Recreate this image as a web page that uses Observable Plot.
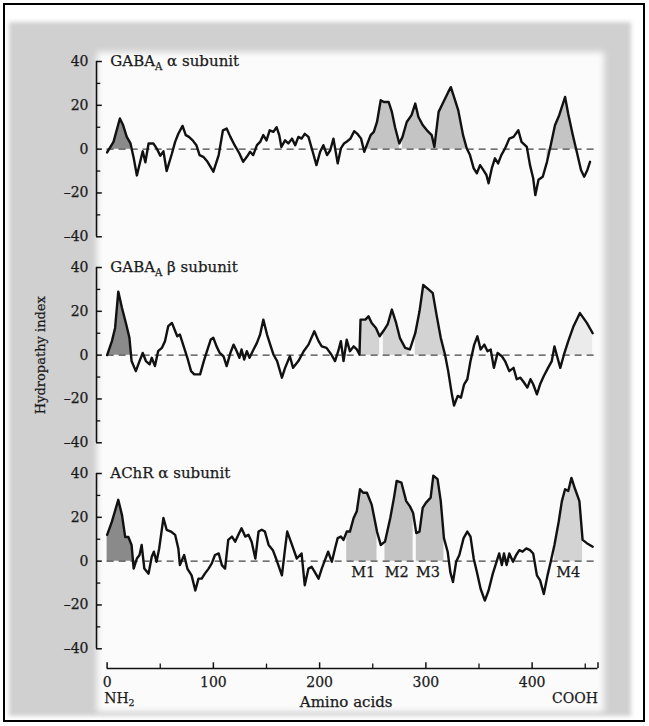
<!DOCTYPE html>
<html><head><meta charset="utf-8">
<script src="https://cdn.jsdelivr.net/npm/d3@7"></script>
<script src="https://cdn.jsdelivr.net/npm/@observablehq/plot@0.6"></script>
<style>
html,body{margin:0;padding:0;background:#fff;}
#wrap{position:relative;width:649px;height:726px;overflow:hidden;}
#border{position:absolute;left:3px;top:3px;width:638px;height:715px;border:2px solid #000;}
#scan{position:absolute;left:9px;top:22px;width:622px;height:694px;background:#d0d0d0;filter:blur(2px);}
#paper{position:absolute;left:97px;top:52px;width:507px;height:660px;background:#fbfbfb;filter:blur(3px);}
#chart{position:absolute;left:0;top:0;}
</style></head>
<body>
<div id="wrap"><div id="scan"></div><div id="paper"></div><div id="border"></div><div id="chart"></div></div>
<script>
// ---- data ----
const panels = ["gabaAlpha", "gabaBeta", "achrAlpha"];
const panelTitles = ["GABA_A α subunit", "GABA_A β subunit", "AChR α subunit"];

const gabaAlpha = [[0,-1.5],[6,3.3],[12,14],[15,11],[18.5,5.6],[22,2.6],[25,-4],[28,-12],[31,-6],[33.5,-1],[36,-6],[39,2.6],[43.5,2.6],[47,0],[50,-3],[53,-1],[56,-10],[61,-2],[64,3.3],[67,7],[71,10.6],[74,6.4],[77,5.6],[80.5,4],[84,1.8],[87,-2.7],[90.5,-3.5],[94.5,-5.8],[100,-10.3],[105,-2.7],[109,8.6],[112.5,9.4],[116,5.6],[120,1.8],[124.5,-2],[128,-5.8],[131.5,-3.5],[134.5,-1.2],[137.5,-2.7],[141,1.8],[144,3.3],[147,6.4],[150,4],[153,8.6],[156.5,7.9],[159.5,10],[162,6.4],[164,1],[167.5,4],[170.5,2.6],[174,4.8],[177,1.8],[180,5.6],[183,4.8],[186,7],[189.5,5.6],[193.5,-1.2],[197,-7.3],[200.5,-1.2],[203.5,1.8],[207,-2.7],[210,-0.5],[213,4.8],[217,-6.5],[220,0.3],[223,2.6],[226,3.6],[229,4.8],[232.5,8.2],[235.5,7],[239,4.8],[242,-1.2],[245,2.6],[248,6.4],[251,7.9],[254,12.4],[257.5,22.3],[260.5,21.5],[265,21.5],[268,17],[271,10],[275,2.6],[278,5.6],[282,12.4],[286.5,15.5],[290,20.8],[293,14.7],[297,11],[301,8.6],[305.5,6.4],[308,1],[312,17],[316.5,21.5],[321,26],[323.5,28.3],[326,24.5],[330.5,17.7],[335,6.4],[338.5,0.3],[341.5,-2.7],[345,-8.8],[348,-11],[351,-7.3],[354,-9.5],[357,-11.8],[359,-15.6],[362,-8.8],[365,-4.2],[368,-6.5],[371,-2.7],[374.5,0.3],[378.5,4.8],[382.5,5.6],[387,8.6],[390,3.3],[395,1],[398,-7.3],[401,-13.3],[403,-21],[406,-14],[410,-12.6],[414,-5.8],[417.5,1.8],[421.5,10.9],[425.5,15.5],[431,23.8],[434,16],[438,7],[442,-1.2],[446,-9.5],[449,-12.6],[452,-9.5],[454.5,-5.8]];

const gabaBeta = [[0,0],[4.5,6.4],[7.5,12.4],[10.5,29],[14,21.5],[18,14],[21,7.9],[23,-2.7],[27,-7.3],[30.5,-2.7],[33.5,1],[36.5,-2.7],[40,-4.2],[42,-1.2],[45,-5],[48,1.8],[51.5,3.3],[54.5,6.4],[57.5,13.2],[61,14.7],[64,11],[66,8.6],[68.5,9.4],[72.5,3.3],[75.5,-1.2],[79,-7.3],[82,-8.8],[87.5,-8.8],[91,-2.7],[94.5,2.6],[97.5,7.1],[100,7.9],[103,4],[106,1],[109.5,-0.5],[112.5,-5],[116,1],[119,4.8],[122,1.8],[124.5,-1.2],[126.5,2.6],[129,-2],[131.5,1.8],[134,-1.2],[137,1.8],[141,5.6],[144,9.4],[147,16.2],[150.5,9.4],[153.5,4.8],[156.5,0.3],[160,-2.7],[164.5,-10.3],[167.5,-5.8],[172,-0.5],[175,-5.8],[180,-2.7],[185,1.8],[189.5,4.8],[195,10.9],[199,6.4],[202,4],[206.5,3.3],[211,0.3],[214.5,-2.7],[217.5,1.8],[220,6.4],[222.5,-2.7],[225.5,7],[228.5,1.8],[232,4],[235,2.6],[237.5,0.3],[238.5,16.2],[243,16.2],[246,17.7],[249,14.7],[253,12.4],[256.5,8.6],[260,11],[264,14],[268,20.8],[272,14.7],[275.5,7.9],[280.5,3.3],[285,2.6],[290,10],[294,20],[297.5,32],[302.5,30],[306.5,28.3],[310,18.5],[314,7.9],[318,0.3],[321,-7.3],[324.5,-18],[326.5,-23],[330,-18.6],[333,-19.4],[336,-13.3],[339,-11],[342,-2.7],[345.5,4.8],[348.5,8.6],[351.5,2.6],[355,4.8],[358,1.8],[361,2.6],[364,-5.8],[367.5,1],[371.5,-0.5],[374.5,-2.7],[378.5,-7.3],[382.5,-5.8],[385.5,-11],[389,-10.3],[392.5,-12.6],[395.5,-14.8],[398.5,-11],[401,-13.3],[404.5,-17.9],[407.5,-13.3],[411,-9.5],[415,-5.8],[418.5,-2.7],[421,4],[423.5,-0.5],[426.5,-5.8],[430,0.3],[434,6.4],[439,13.2],[445,19.2],[451.5,14.7],[457,10]];

const achrAlpha = [[0,12],[4.5,18],[10.5,28],[14,21],[17,11],[20,11],[23,7.4],[25,-3.4],[28,1.2],[30.5,2.8],[32.5,7.4],[35,-3.4],[39,-5.7],[42,2],[44,4.3],[46.5,-0.3],[49,5.8],[53,19.7],[56,14.3],[60,13.5],[64,12],[67,5.8],[68.5,-1.8],[72.5,2.8],[75.5,-3.4],[79.5,-6.5],[83,-13.4],[86,-8],[89,-8],[92,-5.7],[95.5,-3.4],[98.5,-1],[101.5,2.8],[105,3.5],[108,-1.8],[111,-3.4],[114,9.7],[117.5,11.2],[120.5,8.9],[123.5,12],[126.5,15],[130,11.2],[133,12],[136,8.9],[139.5,1.2],[142.5,13.5],[145.5,14.3],[148.5,13.5],[152,7.4],[156,5],[159.5,0.5],[164.5,-6.5],[167.5,5.8],[169.5,13.5],[174,7.4],[178.5,1.2],[183,3.5],[186,-11],[189.5,-3.4],[192.5,-2.6],[195.5,-5],[199,-8],[202,-3.4],[205,0.5],[208,4.3],[211.5,-0.3],[214.5,5.8],[217,10.5],[220,11.2],[222.5,9.7],[225.5,13.5],[228.5,13.5],[232,19.7],[235,22.8],[238,32.8],[241,31.2],[244.5,31.2],[249,25.8],[254,13.5],[257.5,7.4],[261.5,8.9],[266.5,19.7],[270,29],[272.5,36.6],[277,35.8],[281.5,27.4],[285,25],[288,22],[291,12.8],[294,13.5],[297,24.3],[300,26.6],[304.5,29],[307,39],[311,37.4],[314,27.4],[317,10.5],[320.5,4.3],[323,-5],[325.5,-9.5],[328.5,-0.3],[331.5,2.8],[335.5,10.5],[339,13.5],[342,11.2],[345,1.2],[348,-5],[351.5,-12.6],[355.5,-18],[359,-13.4],[363,-5.7],[366.5,-0.3],[369,3.5],[371.5,-1.8],[373.5,3.5],[376,-1.8],[378.5,3.5],[382,-0.3],[385,2.8],[388,5],[391,4.3],[394.5,5.8],[398,5],[401,3.5],[404.5,-6.5],[407.5,-8.8],[411,-15],[414.5,-6.5],[417.5,-0.3],[421,7.4],[425,18],[428,27.4],[431,32.8],[434,32],[437,38],[440.5,32.8],[444.5,27.4],[447.5,9.7],[451.5,8.2],[457,6.6]];

// shaded stretches: [panel index, from, to, kind]
const shadeRegions = [
  [0, 0, 22, "signal"], [0, 244, 276, "tm"], [0, 277, 308, "tm"], [0, 308, 338.5, "tm"], [0, 414, 442, "tm"],
  [1, 0, 23, "signal"], [1, 237.5, 257, "tmLight"], [1, 259, 285, "tmLight"], [1, 288, 318, "tmLight"], [1, 430, 457, "tmFaint"],
  [2, 0, 25, "signal"], [2, 225, 256.5, "tm"], [2, 261, 288, "tm"], [2, 290, 318, "tm"], [2, 421, 448, "tmLight"]
];
const segmentLabels = ["M1", "M2", "M3", "M4"];
const segmentX = [241, 272.5, 302, 434];
const yTicksMajor = [-40, -20, 0, 20, 40];
const yTicksMinor = [-30, -10, 10, 30];
const xTicksMajor = [0, 100, 200, 300, 400];
const xTicksMinor = [50, 150, 250, 350, 450];
const xEndLabels = ["NH_2", "COOH"];

// ---- build ----
const series = [gabaAlpha, gabaBeta, achrAlpha];
const rows = series.flatMap((s, i) => s.map(([x, y]) => ({panel: panels[i], x, y})));
const xMin = -10, xMax = 462, yMin = -49, yMax = 40;
const shadeColor = {signal: "#8a8a8a", tm: "#c4c4c4", tmLight: "#d3d3d3", tmFaint: "#ebebeb"};
const font = "'DejaVu Serif', serif";
const ink = "#1a1a1a";
const textStyle = {fill: ink, stroke: ink, strokeWidth: 0.25};

const areaMarks = shadeRegions.map(([pi, a, b, kind]) =>
  Plot.areaY(rows.filter(d => d.panel === panels[pi] && d.x >= a - 0.01 && d.x <= b + 0.01),
    {x: "x", y1: 0, y2: "y", fy: "panel", fill: shadeColor[kind]}));

const chart = Plot.plot({
  width: 649, height: 726,
  marginLeft: 96, marginRight: 51.5, marginTop: 61, marginBottom: 58,
  style: {background: "transparent", fontFamily: font, overflow: "visible"},
  x: {domain: [xMin, xMax], axis: null},
  y: {domain: [yMin, yMax], axis: null},
  fy: {domain: panels, axis: null, paddingInner: 0.0534, paddingOuter: 0},
  marks: [
    ...areaMarks,
    Plot.ruleY(panels.map(p => ({panel: p})), {fy: "panel", y: 0, x1: 0, x2: xMax, stroke: "#444", strokeWidth: 1.4, strokeDasharray: "7,5"}),
    Plot.line(rows, {x: "x", y: "y", z: "panel", fy: "panel", stroke: "#111", strokeWidth: 2.4, strokeLinejoin: "round"}),
    // y axis per panel
    Plot.ruleX(panels.map(p => ({panel: p})), {fy: "panel", x: xMin, y1: -40, y2: 40, stroke: "#111", strokeWidth: 1.6}),
    Plot.ruleY(panels.flatMap(p => yTicksMajor.map(t => ({panel: p, t})) ), {fy: "panel", y: "t", x1: xMin, x2: xMin + 5.5, stroke: "#111", strokeWidth: 1.5}),
    Plot.ruleY(panels.flatMap(p => yTicksMinor.map(t => ({panel: p, t})) ), {fy: "panel", y: "t", x1: xMin, x2: xMin + 4, stroke: "#111", strokeWidth: 1.3}),
    Plot.text(panels.flatMap(p => yTicksMajor.map(t => ({panel: p, t})) ), {fy: "panel", y: "t", x: xMin, dx: -8, text: d => d.t < 0 ? "\u2013" + (-d.t) : String(d.t), textAnchor: "end", fontSize: 14, ...textStyle}),
    // panel titles
    Plot.text(panels.map((p, i) => ({panel: p, t: panelTitles[i]})), {fy: "panel", x: 3, y: yMax, text: "t", textAnchor: "start", fontSize: 15, ...textStyle}),
    // segment labels
    Plot.text(segmentLabels.map((t, i) => ({panel: panels[2], t, x: segmentX[i]})), {fy: "panel", x: "x", y: -2.5, text: "t", lineAnchor: "top", fontSize: 14.5, ...textStyle}),
    // y label
    Plot.text([{panel: panels[1], t: "Hydropathy index"}], {fy: "panel", frameAnchor: "left", y: 0, dx: -56, rotate: -90, text: "t", textAnchor: "middle", lineAnchor: "middle", fontSize: 13, ...textStyle}),
    // x axis on bottom panel
    Plot.ruleY([{panel: panels[2]}], {fy: "panel", y: yMin, x1: 0, x2: xMax, stroke: "#111", strokeWidth: 1.6}),
    Plot.ruleX(xTicksMajor.concat([xMax]).map(t => ({panel: panels[2], t})), {fy: "panel", x: "t", y1: yMin, y2: yMin + 2.6, stroke: "#111", strokeWidth: 1.5}),
    Plot.ruleX(xTicksMinor.map(t => ({panel: panels[2], t})), {fy: "panel", x: "t", y1: yMin, y2: yMin + 2, stroke: "#111", strokeWidth: 1.3}),
    Plot.text(xTicksMajor.map(t => ({panel: panels[2], t})), {fy: "panel", x: "t", frameAnchor: "bottom", dy: 14, lineAnchor: "middle", text: d => String(d.t), fontSize: 14, ...textStyle}),
    Plot.text([{panel: panels[2], t: xEndLabels[0], x: 0}], {fy: "panel", x: "x", frameAnchor: "bottom", dy: 30, dx: -3, lineAnchor: "middle", text: "t", textAnchor: "start", fontSize: 14, ...textStyle}),
    Plot.text([{panel: panels[2], t: xEndLabels[1], x: xMax}], {fy: "panel", x: "x", frameAnchor: "bottom", dy: 30, lineAnchor: "middle", text: "t", textAnchor: "end", fontSize: 14, ...textStyle}),
    Plot.text([{panel: panels[2], t: "Amino acids", x: 225}], {fy: "panel", x: "x", frameAnchor: "bottom", dy: 34, lineAnchor: "middle", text: "t", textAnchor: "middle", fontSize: 15, ...textStyle})
  ]
});

// subscripts (GABA_A, NH_2)
chart.querySelectorAll("text").forEach(t => {
  const s = t.textContent;
  if (!s.includes("_") || t.children.length) return;
  const [pre, rest] = s.split("_");
  t.textContent = "";
  t.append(pre);
  const sub = document.createElementNS("http://www.w3.org/2000/svg", "tspan");
  sub.setAttribute("font-size", "0.68em");
  sub.setAttribute("dy", "0.35em");
  sub.textContent = rest[0];
  t.append(sub);
  if (rest.length > 1) {
    const post = document.createElementNS("http://www.w3.org/2000/svg", "tspan");
    post.setAttribute("dy", "-0.24em");
    post.textContent = rest.slice(1);
    t.append(post);
  }
});
document.getElementById("chart").append(chart);
</script>
</body></html>
